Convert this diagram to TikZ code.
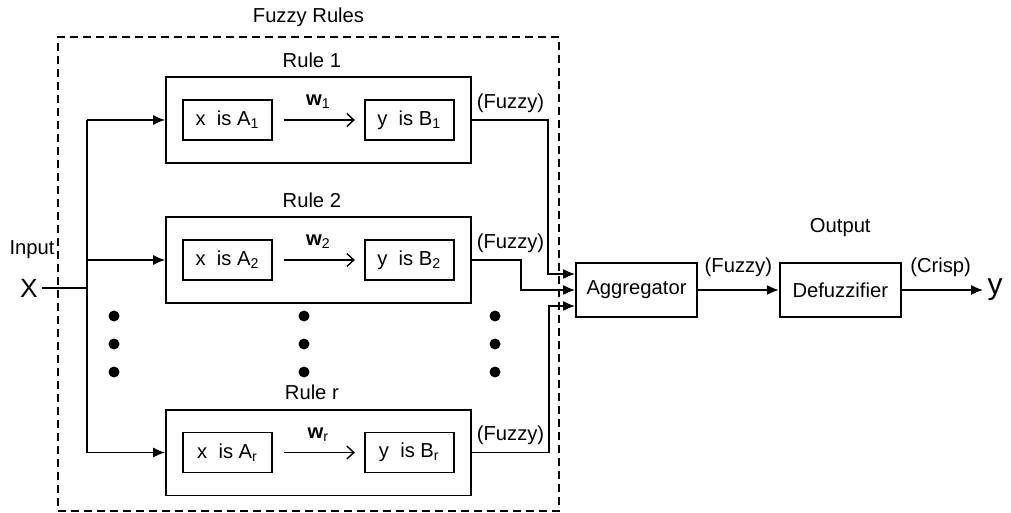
\documentclass[tikz,border=0pt]{standalone}
\usepackage{fontspec}
\setmainfont{Liberation Sans}
\usetikzlibrary{positioning,fit,arrows.meta,calc,backgrounds}

\begin{document}
\begin{tikzpicture}[
  x=1mm, y=1mm,
  font=\fontsize{11.5}{13.8}\selectfont,
  >={Latex[length=2.4mm,width=2mm]},
  %% Node styles
  cond/.style={
    draw=black, line width=1pt,
    minimum width=17.8mm, minimum height=8mm, inner sep=0pt
  },
  rulebox/.style={
    draw=black, line width=1pt,
    inner xsep=3.2mm, inner ysep=4.4mm
  },
  stage/.style={
    draw=black, line width=1pt,
    minimum width=24.2mm, minimum height=10.8mm, inner sep=0pt
  },
  plate/.style={
    draw=black, line width=0.9pt,
    dash pattern=on 1.6mm off 1mm, inner sep=0pt
  },
  %% Arrow styles
  sig/.style={->, line width=1pt},
  imp/.style={-{Straight Barb[length=1.4mm,width=2.6mm]}, line width=0.8pt,
              shorten <=2.2mm, shorten >=1.8mm},
  wire/.style={line width=1pt},
]
\useasboundingbox (0,0) rectangle (202.2,-102.6);

%% ── Rule 1 ─────────────────────────────────────────────────────────────────
\node[cond] (a1) at (45.5,-24) {x~ is A\textsubscript{1}};
\node[cond, right=18.2mm of a1] (b1) {y~ is B\textsubscript{1}};
\node[rulebox, fit=(a1)(b1)] (r1) {};
\draw[imp] (a1) -- (b1);
\node (w1) at ($(a1.east)!0.5!(b1.west)+(0,3.6)$) {\textbf{w}\textsubscript{1}};
\node[above=0.5mm of r1, xshift=-1.3mm] (t1) {Rule 1};

%% ── Rule 2 ─────────────────────────────────────────────────────────────────
\node[cond] (a2) at (45.5,-52) {x~ is A\textsubscript{2}};
\node[cond, right=18.2mm of a2] (b2) {y~ is B\textsubscript{2}};
\node[rulebox, fit=(a2)(b2)] (r2) {};
\draw[imp] (a2) -- (b2);
\node (w2) at ($(a2.east)!0.5!(b2.west)+(0,3.6)$) {\textbf{w}\textsubscript{2}};
\node[above=0.5mm of r2, xshift=-1.3mm] (t2) {Rule 2};

%% ── Rule r ─────────────────────────────────────────────────────────────────
\node[cond] (ar) at (45.5,-90.5) {x~ is A\textsubscript{r}};
\node[cond, right=18.2mm of ar] (br) {y~ is B\textsubscript{r}};
\node[rulebox, fit=(ar)(br)] (rr) {};
\draw[imp] (ar) -- (br);
\node (wr) at ($(ar.east)!0.5!(br.west)+(0,3.6)$) {\textbf{w}\textsubscript{r}};
\node[above=0.5mm of rr, xshift=-1.3mm] (tr) {Rule r};

%% vertical dots between rule 2 and rule r
\fill (22.8,-63.2) circle (1.1) (22.8,-68.8) circle (1.1) (22.8,-74.4) circle (1.1);
\fill (60.8,-63.2) circle (1.1) (60.8,-68.8) circle (1.1) (60.8,-74.4) circle (1.1);
\fill (99.0,-63.2) circle (1.1) (99.0,-68.8) circle (1.1) (99.0,-74.4) circle (1.1);

%% ── Plate around the rule base ─────────────────────────────────────────────
\coordinate (pnw) at (11.6,-7.4);
\coordinate (pse) at (111.8,-102.2);
\node[plate, fit=(pnw)(pse)] (plate) {};
\node[above=0.6mm of plate.north] (ptitle) {Fuzzy Rules};

%% ── Input fan-out ──────────────────────────────────────────────────────────
\node[font=\fontsize{15}{18}\selectfont, inner sep=0.8mm] (xin) at (5.8,-57.6) {X};
\node (inlbl) at (6.4,-50) {Input};
\coordinate (bus) at (17.4,-57.6);
\draw[wire] (xin) -- (bus);
\draw[wire] (bus |- r1.west) -- (bus |- rr.west);
\draw[sig] (bus |- r1.west) -- (r1.west);
\draw[sig] (bus |- r2.west) -- (r2.west);
\draw[sig] (bus |- rr.west) -- (rr.west);

%% ── Aggregation and defuzzification ────────────────────────────────────────
\node[stage] (agg) at (127.3,-58) {Aggregator};
\node[stage, right=16.2mm of agg] (defuzz) {Defuzzifier};
\node[above=3.8mm of defuzz] (outlbl) {Output};
\node[font=\fontsize{17}{20}\selectfont, inner sep=0.8mm] (yout) at (199,-58) {y};

\coordinate (in1) at ($(agg.west)+(0,3.2)$);
\coordinate (in2) at (agg.west);
\coordinate (in3) at ($(agg.west)+(0,-3.2)$);

\draw[sig] (r1.east) -| ([xshift=-5.4mm]in1) -- (in1);
\draw[sig] (r2.east) -| ([xshift=-10.8mm]in2) -- (in2);
\draw[sig] (rr.east) -| ([xshift=-5.2mm]in3) -- (in3);
\node (f1) at ($(r1.east)+(7.8,3.4)$) {(Fuzzy)};
\node (f2) at ($(r2.east)+(7.8,3.4)$) {(Fuzzy)};
\node (f3) at ($(rr.east)+(7.8,3.4)$) {(Fuzzy)};

\draw[sig] (agg) -- (defuzz);
\node (fagg) at ($(agg.east)!0.5!(defuzz.west)+(0,4.5)$) {(Fuzzy)};
\draw[sig] (defuzz) -- (yout);
\node (crisp) at ($(defuzz.east)+(7.8,4.5)$) {(Crisp)};

\end{tikzpicture}
\end{document}
